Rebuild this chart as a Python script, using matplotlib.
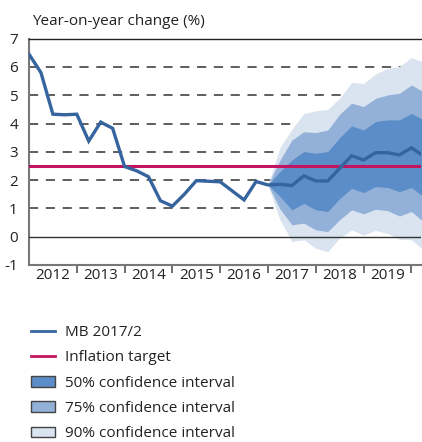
import numpy as np
import matplotlib
matplotlib.use("Agg")
import matplotlib.pyplot as plt
from matplotlib.lines import Line2D
from matplotlib.patches import Patch

plt.rcParams["font.family"] = ["Open Sans", "DejaVu Sans"]
plt.rcParams["axes.unicode_minus"] = False

# quarterly data, 2012Q1 onwards
START_YEAR = 2012
mb = [6.45, 5.8, 4.33, 4.31, 4.33, 3.38, 4.05, 3.83,
      2.48, 2.33, 2.12, 1.27, 1.08, 1.5, 1.98, 1.96,
      1.94, 1.62, 1.30, 1.95, 1.83, 1.85, 1.81, 2.15,
      1.97, 1.97, 2.42, 2.86, 2.71, 2.97, 2.97, 2.89,
      3.14, 2.86]
fan_start = 20  # 2017Q1
upper90 = [1.83, 3.15, 3.8, 4.35, 4.45, 4.5, 4.9, 5.45, 5.42, 5.75, 5.95, 6.02, 6.33, 6.18]
upper75 = [1.83, 2.7, 3.42, 3.71, 3.68, 3.77, 4.33, 4.72, 4.6, 4.89, 5.01, 5.07, 5.36, 5.13]
upper50 = [1.83, 2.3, 2.71, 3.01, 2.95, 3.01, 3.5, 3.92, 3.77, 4.07, 4.13, 4.13, 4.36, 4.13]
lower50 = [1.83, 1.42, 0.95, 1.18, 0.95, 0.89, 1.35, 1.71, 1.56, 1.77, 1.74, 1.59, 1.74, 1.42]
lower75 = [1.83, 0.98, 0.42, 0.48, 0.24, 0.18, 0.6, 0.95, 0.81, 0.97, 0.92, 0.73, 0.89, 0.53]
lower90 = [1.83, 0.6, -0.17, -0.11, -0.41, -0.53, -0.05, 0.24, 0.06, 0.22, 0.12, -0.09, -0.11, -0.47]
inflation_target = 2.5
years = list(range(2012, 2020))

LINE_C = "#35649E"
TARGET_C = "#C4145F"
C50 = "#5B8DC9"
C75 = "#93B1D8"
C90 = "#D9E4F0"
FS = 11

x = START_YEAR + np.arange(len(mb)) * 0.25
xf = x[fan_start:fan_start + len(upper90)]

fig = plt.figure(figsize=(4.22, 4.42), dpi=100)
ax = fig.add_axes([0.0687, 0.4005, 0.93, 0.512])

# dashed grid
for yv in range(1, 7):
    ax.axhline(yv, color="#333333", lw=1.1, ls=(0, (6, 5)), zorder=1)

ax.fill_between(xf, lower90, upper90, color=C90, lw=0, zorder=2)
ax.fill_between(xf, lower75, upper75, color=C75, lw=0, zorder=3)
ax.fill_between(xf, lower50, upper50, color=C50, lw=0, zorder=4)

ax.axhline(0, color="#333333", lw=1.0, zorder=5)
ax.axhline(inflation_target, color=TARGET_C, lw=2.2, zorder=6)
ax.plot(x, mb, color=LINE_C, lw=2.4, zorder=7, solid_joinstyle="miter")

ax.set_ylim(-1, 7)
ax.set_xlim(2012, 2020.21)
ax.set_yticks(range(-1, 8))
ax.tick_params(axis="y", length=0, pad=8, labelsize=FS, colors="#222222")

ax.set_xticks([y + 1 for y in years])
ax.set_xticklabels([])
ax.set_xticks([y + 0.5 for y in years], minor=True)
ax.set_xticklabels([str(y) for y in years], minor=True)
ax.tick_params(axis="x", which="major", length=6, width=1.2, color="#555555")
ax.tick_params(axis="x", which="minor", length=0, pad=2, labelsize=FS, labelcolor="#222222")

ax.spines["right"].set_visible(False)
ax.spines["top"].set_color("#222222")
ax.spines["top"].set_linewidth(1.0)
ax.spines["left"].set_color("#777777")
ax.spines["left"].set_linewidth(1.5)
ax.spines["bottom"].set_color("#777777")
ax.spines["bottom"].set_linewidth(1.5)

fig.text(0.075, 0.952, "Year-on-year change (%)", fontsize=FS, color="#222222",
         ha="left", va="center")

handles = [
    Line2D([], [], color=LINE_C, lw=2),
    Line2D([], [], color=TARGET_C, lw=2),
    Patch(facecolor=C50, edgecolor="#444444", lw=1),
    Patch(facecolor=C75, edgecolor="#444444", lw=1),
    Patch(facecolor=C90, edgecolor="#444444", lw=1),
]
labels = ["MB 2017/2", "Inflation target", "50% confidence interval",
          "75% confidence interval", "90% confidence interval"]
fig.legend(handles, labels, loc="upper left", bbox_to_anchor=(0.073, 0.265),
           frameon=False, fontsize=FS, handlelength=1.6, handleheight=0.7,
           handletextpad=0.65, labelspacing=0.68, borderpad=0, borderaxespad=0,
           labelcolor="#222222")

fig.savefig("out.png", dpi=100)
